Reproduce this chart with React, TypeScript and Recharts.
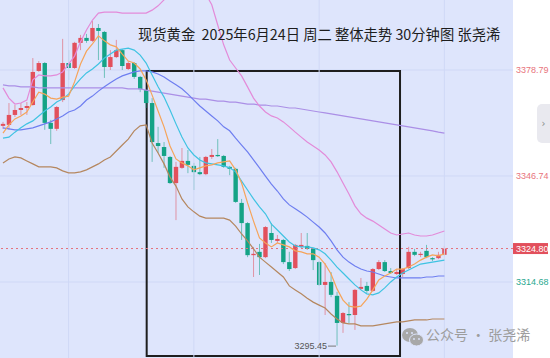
import React from 'react';
import {
  ComposedChart, Bar, Line, XAxis, YAxis, CartesianGrid,
  ReferenceLine, ReferenceArea, ReferenceDot,
} from 'recharts';

// ---- candle data (30-min bars) ----
const openP = [3361.9,3362.2,3365.2,3366.7,3367.3,3368.2,3378.5,3380.9,3362.8,3361.0,
  3369.7,3380.9,3379.4,3387.0,3388.5,3387.6,3391.5,3390.3,3379.7,3382.7,
  3384.8,3379.1,3380.9,3376.7,3372.7,3368.8,3356.7,3355.5,3352.5,3344.6,
  3349.2,3351.3,3349.8,3347.9,3347.3,3352.5,3353.1,3352.8,3349.5,3348.9,
  3338.6,3332.5,3322.8,3323.8,3322.2,3329.5,3327.1,3327.4,3320.7,3318.9,
  3325.3,3325.6,3324.7,3320.7,3313.8,3314.7,3310.5,3302.3,3305.0,3304.7,
  3312.6,3313.5,3312.0,3318.6,3320.7,3318.0,3317.1,3317.1,3318.9,3323.8,
  3322.9,3324.1,3321.9,3321.9,3322.9];
const highP = [3363.1,3368.8,3368.2,3368.8,3369.1,3382.4,3381.5,3381.2,3363.7,3367.9,
  3388.2,3384.8,3387.3,3389.4,3389.7,3393.6,3392.7,3390.6,3384.8,3387.9,
  3385.1,3381.5,3381.2,3377.0,3373.0,3370.3,3361.6,3357.0,3352.8,3351.0,
  3355.2,3354.6,3350.7,3352.5,3352.8,3354.9,3357.9,3353.1,3349.8,3349.2,
  3339.8,3332.8,3325.3,3326.2,3331.6,3332.5,3328.9,3327.7,3323.8,3326.2,
  3329.5,3329.5,3325.0,3321.0,3320.4,3317.7,3311.7,3305.6,3308.6,3312.6,
  3315.9,3314.7,3318.9,3321.3,3321.3,3318.9,3318.6,3318.9,3325.3,3324.7,
  3323.8,3325.9,3322.2,3323.8,3325.6];
const lowP = [3361.0,3360.7,3364.6,3365.2,3365.2,3368.0,3378.2,3360.7,3356.4,3360.4,
  3369.1,3375.8,3379.1,3384.8,3387.0,3387.3,3381.8,3376.4,3378.8,3382.4,
  3378.8,3378.8,3376.1,3372.1,3367.3,3351.0,3353.7,3349.2,3344.3,3333.4,
  3348.9,3347.6,3342.5,3347.0,3347.0,3351.9,3352.5,3349.2,3347.0,3338.6,
  3327.4,3322.2,3316.2,3316.8,3321.9,3326.5,3326.5,3320.1,3318.0,3318.6,
  3325.0,3324.4,3318.3,3313.5,3304.7,3310.1,3295.45,3299.3,3302.3,3300.2,
  3312.3,3311.4,3311.7,3318.3,3317.7,3317.1,3316.8,3316.2,3318.6,3322.5,
  3322.2,3321.9,3321.0,3321.6,3322.5];
const closeP = [3362.5,3365.2,3366.7,3367.3,3367.9,3378.2,3380.9,3362.8,3361.0,3367.6,
  3380.9,3379.4,3387.0,3388.5,3387.6,3391.5,3390.6,3379.7,3382.7,3384.8,
  3380.0,3380.9,3376.7,3373.0,3368.8,3357.0,3355.8,3352.8,3344.6,3349.5,
  3351.3,3350.1,3347.9,3347.3,3352.5,3353.1,3352.8,3349.5,3348.9,3338.9,
  3332.5,3322.8,3323.2,3322.2,3331.3,3327.4,3327.7,3320.7,3318.6,3325.9,
  3325.9,3324.7,3321.3,3313.8,3314.7,3310.8,3302.3,3305.3,3304.7,3312.3,
  3313.2,3312.0,3318.6,3320.7,3318.0,3317.4,3317.7,3318.6,3323.8,3322.9,
  3323.2,3322.2,3321.6,3322.9,3324.8];

// ---- indicator lines ----
const ma5 = [3359.7,3362.2,3364.0,3364.9,3366.1,3369.1,3372.1,3371.5,3370.3,3370.0,
  3370.6,3370.9,3375.2,3380.6,3384.5,3386.7,3389.1,3387.6,3386.4,3385.8,
  3383.6,3381.5,3380.9,3379.1,3375.8,3371.2,3366.4,3361.6,3355.8,3351.9,
  3350.7,3349.8,3348.6,3349.2,3349.8,3350.1,3350.7,3351.0,3351.3,3348.6,
  3344.6,3338.6,3333.1,3328.0,3326.5,3325.3,3326.5,3325.9,3325.3,3324.1,
  3323.8,3323.2,3323.2,3322.2,3320.1,3317.1,3312.6,3309.2,3307.4,3307.1,
  3307.4,3309.5,3312.3,3315.3,3316.5,3317.4,3318.6,3318.6,3319.2,3320.1,
  3321.3,3322.2,3322.9,3322.6,3323.2];
const ma10 = [3358.2,3358.5,3360.0,3361.3,3362.5,3363.4,3364.9,3366.4,3367.6,3369.1,
  3370.0,3371.5,3374.0,3376.1,3377.9,3379.1,3380.6,3382.4,3383.6,3384.8,
  3385.1,3385.4,3384.8,3383.3,3380.9,3377.3,3373.7,3370.6,3366.7,3362.5,
  3358.5,3355.2,3353.1,3351.6,3350.7,3350.4,3350.1,3349.8,3349.2,3348.0,
  3345.2,3342.5,3339.8,3337.4,3335.3,3332.2,3330.4,3328.6,3326.8,3325.6,
  3325.3,3325.3,3325.0,3324.4,3323.2,3321.3,3319.2,3317.4,3315.6,3313.8,
  3312.3,3311.1,3310.8,3311.4,3312.9,3314.7,3316.2,3317.4,3318.3,3319.2,
  3320.1,3320.4,3320.7,3321.0,3321.3];
const ma20 = [3361.3,3361.0,3360.7,3360.7,3361.0,3361.3,3361.9,3362.5,3363.1,3364.0,
  3364.9,3366.1,3366.7,3367.9,3369.7,3370.9,3372.4,3373.7,3374.9,3376.1,
  3377.0,3377.6,3378.2,3378.5,3378.5,3378.2,3377.6,3376.7,3375.5,3374.3,
  3373.1,3371.5,3369.7,3367.9,3366.4,3364.9,3363.4,3361.6,3360.4,3358.2,
  3356.1,3354.0,3351.6,3349.2,3346.7,3344.3,3342.2,3339.8,3338.0,3336.8,
  3335.6,3334.3,3332.8,3331.3,3329.5,3327.1,3324.4,3322.2,3320.7,3319.5,
  3318.6,3318.0,3317.7,3317.1,3316.5,3316.2,3315.9,3315.9,3315.9,3315.9,
  3315.9,3316.2,3316.2,3316.5,3316.5];
const ma60 = [3374.3,3374.0,3374.0,3373.7,3373.7,3373.7,3373.4,3373.4,3373.4,3373.4,
  3373.4,3373.4,3373.4,3373.4,3373.4,3373.4,3373.4,3373.4,3373.4,3373.4,
  3373.4,3373.1,3373.1,3373.1,3372.7,3372.4,3372.1,3371.8,3371.5,3371.2,
  3370.9,3370.6,3370.3,3370.0,3370.0,3369.7,3369.4,3369.4,3369.1,3369.1,
  3368.8,3368.5,3368.5,3368.2,3368.2,3367.9,3367.9,3367.6,3367.3,3367.3,
  3367.0,3366.7,3366.4,3366.1,3365.8,3365.5,3365.2,3364.9,3364.6,3364.3,
  3364.0,3363.7,3363.4,3363.1,3362.8,3362.5,3362.2,3361.9,3361.6,3361.3,
  3361.0,3360.7,3360.4,3360.0,3359.7];
const bollUp = [3373.4,3370.3,3368.5,3368.8,3369.7,3375.8,3377.3,3377.0,3377.0,3377.3,
  3378.2,3380.6,3383.0,3387.3,3390.9,3393.9,3396.0,3396.3,3396.3,3396.3,
  3396.0,3396.0,3396.0,3396.0,3396.0,3396.9,3398.2,3400.0,3401.8,3403.6,
  3404.8,3405.4,3405.4,3404.2,3401.8,3398.5,3392.4,3386.4,3381.8,3379.4,
  3377.0,3373.7,3370.3,3367.9,3366.1,3364.9,3364.3,3363.1,3361.6,3360.0,
  3358.5,3357.0,3355.8,3354.6,3353.1,3351.0,3348.0,3344.6,3341.3,3337.7,
  3335.3,3334.0,3333.1,3331.9,3330.7,3329.5,3328.9,3329.2,3329.5,3328.9,
  3328.6,3328.6,3328.9,3329.5,3330.1];
const bollDn = [3350.7,3351.9,3352.5,3352.2,3351.3,3350.4,3349.5,3349.5,3349.5,3349.2,
  3348.3,3347.7,3347.7,3348.0,3348.6,3349.5,3350.4,3351.6,3352.5,3354.3,
  3356.1,3357.9,3360.4,3361.9,3362.2,3356.7,3353.7,3350.4,3346.4,3343.7,
  3339.8,3337.4,3335.9,3334.6,3334.0,3334.0,3334.0,3334.0,3333.4,3331.6,
  3329.2,3327.1,3324.7,3322.2,3320.7,3319.2,3317.7,3316.2,3313.5,3312.3,
  3311.1,3309.8,3308.6,3307.7,3306.8,3305.0,3303.5,3302.3,3302.0,3302.0,
  3301.4,3301.4,3301.4,3301.7,3302.0,3302.3,3302.6,3302.6,3302.9,3303.2,
  3303.2,3303.2,3303.5,3303.5,3303.5];

const yTicks = [3314.68, 3324.80, 3346.74, 3378.79];
const gridValues = [3314.68, 3346.74, 3378.79];
const lastPrice = 3324.80;
const lowMark = 3295.45;
const lowMarkBar = '57';
const vGridBars = ['12', '33', '54', '75'];
const boxRange = { x1: 24.59, x2: 67.06, y1: 3378.49, y2: 3292.3 };
const TOTAL_SLOTS = 86;
const title = '现货黄金  2025年6月24日 周二 整体走势 30分钟图 张尧浠';
const watermark = '公众号 · 张尧浠';

const RED = '#e2505c';
const GREEN = '#14a386';

const data = Array.from({ length: TOTAL_SLOTS }, (_, i) => ({
  t: String(i + 1),
  idx: i + 0.5,
  open: openP[i] ?? null,
  high: highP[i] ?? null,
  low: lowP[i] ?? null,
  close: closeP[i] ?? null,
  ma5: ma5[i] ?? null,
  ma10: ma10[i] ?? null,
  ma20: ma20[i] ?? null,
  ma60: ma60[i] ?? null,
  up: bollUp[i] ?? null,
  dn: bollDn[i] ?? null,
}));

const Candle = (props: any) => {
  const { x, y, width, height, payload } = props;
  if (!payload || payload.high == null) return null;
  const { open, close, high, low } = payload;
  const top = Math.min(y, y + height);
  const bot = Math.max(y, y + height);
  const span = high - low || 1;
  const px = (v: number) => top + ((high - v) / span) * (bot - top);
  const isUp = close >= open;
  const color = isUp ? RED : GREEN;
  const cx = x + width / 2;
  const bTop = px(Math.max(open, close));
  const bBot = px(Math.min(open, close));
  const bw = 4.4;
  return (
    <g>
      <line x1={cx} x2={cx} y1={top} y2={bot} stroke={color} strokeOpacity={0.55} strokeWidth={1} />
      <rect x={cx - bw / 2} y={bTop} width={bw} height={Math.max(1.2, bBot - bTop)} fill={color} />
    </g>
  );
};

const PriceTick = (props: any) => {
  const { x, y, payload } = props;
  const v = payload.value as number;
  const label = v.toFixed(2);
  if (Math.abs(v - lastPrice) < 0.001) {
    return (
      <g>
        <rect x={x} y={y - 5.5} width={35} height={11} fill={RED} />
        <text x={x + 3} y={y + 3.3} fill="#ffffff" fontSize={9} fontFamily="Liberation Sans, Arial">{label}</text>
      </g>
    );
  }
  const color = v < lastPrice ? '#2aa88f' : '#e8737c';
  return (
    <text x={x + 3} y={y + 3.3} fill={color} fontSize={9} fontFamily="Liberation Sans, Arial">{label}</text>
  );
};

const LowMark = (p: any) => (
  <g>
    <line x1={p.cx - 9} x2={p.cx - 1} y1={p.cy + 0.5} y2={p.cy + 0.5} stroke="#777" strokeWidth={1} />
    <text x={p.cx - 10} y={p.cy + 3.5} textAnchor="end" fontSize={9} fill="#555" fontFamily="Liberation Sans, Arial">
      {lowMark.toFixed(2)}
    </text>
  </g>
);

const lineProps = { xAxisId: 'cat', strokeWidth: 1.2, dot: false, activeDot: false, isAnimationActive: false } as const;

export default function App() {
  return (
    <div style={{ position: 'absolute', left: 0, top: 0, width: 550, height: 358, background: '#ffffff', overflow: 'hidden' }}>
      <ComposedChart width={550} height={358} data={data} margin={{ top: 0, right: 0, bottom: 0, left: 0 }}>
        <CartesianGrid vertical={false} horizontalValues={gridValues} stroke="#cfd8f6" fill="#dee5fc" fillOpacity={1} />
        <XAxis xAxisId="cat" dataKey="t" hide />
        <XAxis xAxisId="num" type="number" dataKey="idx" domain={[0, TOTAL_SLOTS]} hide />
        <YAxis
          orientation="right"
          width={37}
          domain={[3291.7, 3399.96]}
          allowDataOverflow
          ticks={yTicks}
          interval={0}
          tickLine={false}
          axisLine={false}
          tickSize={0}
          tickMargin={0}
          tick={<PriceTick />}
        />
        {vGridBars.map((c) => (
          <ReferenceLine key={c} xAxisId="cat" x={c} stroke="#cfd8f6" strokeWidth={1} />
        ))}
        <ReferenceLine xAxisId="cat" y={lastPrice} stroke="#e5707a" strokeDasharray="2 3" strokeWidth={1} />
        <Bar xAxisId="cat" dataKey={(d: any) => (d.high == null ? null : [d.low, d.high])} barSize={4}
          shape={<Candle />} activeBar={false} isAnimationActive={false} />
        <Line {...lineProps} dataKey="ma60" stroke="#ab8fe6" />
        <Line {...lineProps} dataKey="up" stroke="#e38bd9" />
        <Line {...lineProps} dataKey="dn" stroke="#b5875f" />
        <Line {...lineProps} dataKey="ma20" stroke="#6e7ef0" />
        <Line {...lineProps} dataKey="ma10" stroke="#3fc3e2" />
        <Line {...lineProps} dataKey="ma5" stroke="#f6a45a" />
        <ReferenceArea xAxisId="num" x1={boxRange.x1} x2={boxRange.x2} y1={boxRange.y1} y2={boxRange.y2}
          fill="none" fillOpacity={0} stroke="#1e1e1e" strokeWidth={2} ifOverflow="visible" />
        <ReferenceDot xAxisId="cat" x={lowMarkBar} y={lowMark} r={0} shape={<LowMark />} />
      </ComposedChart>

      <div style={{ position: 'absolute', left: 138, top: 25, fontSize: 14.3, lineHeight: '17px', whiteSpace: 'pre',
        color: '#1d1d1d', fontFamily: '"Noto Sans CJK SC", sans-serif' }}>{title}</div>

      <div style={{ position: 'absolute', left: 537, top: 104, width: 13, height: 39, background: '#e9e9ef',
        borderRadius: '5px 0 0 5px', color: '#8a8a8a', fontSize: 10, lineHeight: '39px', textAlign: 'center',
        fontFamily: '"DejaVu Sans", sans-serif' }}>›</div>

      <svg style={{ position: 'absolute', left: 401, top: 326 }} width={24} height={22}>
        <ellipse cx={9} cy={9} rx={8} ry={7} fill="#a8a8a8" />
        <ellipse cx={15.5} cy={14} rx={7} ry={6} fill="#a8a8a8" stroke="#dee5fc" strokeWidth={1} />
        <circle cx={6} cy={7} r={1} fill="#dee5fc" />
        <circle cx={11} cy={7} r={1} fill="#dee5fc" />
        <circle cx={13} cy={13} r={0.9} fill="#dee5fc" />
        <circle cx={18} cy={13} r={0.9} fill="#dee5fc" />
      </svg>
      <div style={{ position: 'absolute', left: 426, top: 326, fontSize: 14, lineHeight: '17px', whiteSpace: 'pre',
        color: '#9d9d9d', fontFamily: '"Noto Sans CJK SC", sans-serif' }}>{watermark}</div>
    </div>
  );
}
